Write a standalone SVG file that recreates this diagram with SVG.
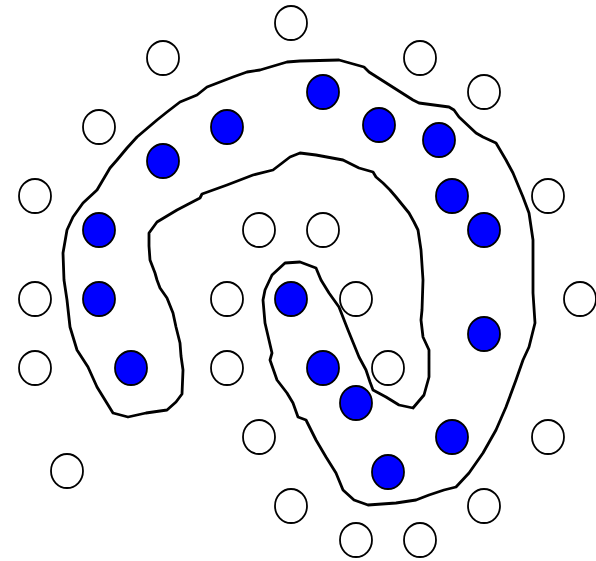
<svg xmlns="http://www.w3.org/2000/svg" width="596" height="561" viewBox="0 0 596 561">
<style>
.o{fill:#fff;stroke:#000;stroke-width:1.8}
.b{fill:#0000ff;stroke:#000;stroke-width:1.8}
.r{fill:none;stroke:#000;stroke-width:2.8;stroke-linejoin:round}
</style>
<rect width="596" height="561" fill="#fff"/>
<g id="region">
<path class="r" d="M113,413 L128,417 L146,413 L167,410 L176,402 L182,394 L183,370 L181,356 L180,343 L176,327 L173,313 L167,298 L160,288 L157,280 L155,273 L150,260 L149,246 L149,233 L157,222 L177,210 L200,198 L202,194 L227,185 L253,175 L273,170 L290,157 L300,153 L316,155 L343,160 L359,168 L373,172 L376,177 L383,183 L390,190 L396,197 L409,213 L414,222 L418,230 L421,250 L423,280 L422,310 L421,320 L423,337 L429,350 L429,377 L424,395 L413,408 L399,405 L386,397 L373,390 L370,382 L366,370 L359,357 L348,330 L339,307 L329,293 L321,280 L316,268 L300,262 L285,263 L272,275 L265,290 L263,300 L265,323 L272,353 L270,360 L277,380 L287,393 L293,403 L298,417 L306,420 L316,440 L326,457 L336,473 L343,490 L354,500 L368,505 L396,503 L416,500 L429,495 L444,490 L456,487 L469,473 L483,453 L496,430 L506,407 L516,380 L523,360 L529,347 L535,323 L533,293 L533,240 L529,213 L523,197 L513,173 L506,160 L496,143 L483,137 L476,133 L459,117 L454,110 L449,107 L419,103 L413,100 L369,72 L364,67 L339,60 L300,61 L287,62 L260,70 L247,72 L233,77 L207,87 L197,95 L180,102 L167,112 L157,120 L137,137 L127,148 L117,160 L110,168 L97,190 L83,203 L73,217 L67,230 L63,253 L64,280 L67,300 L70,327 L77,350 L88,367 L97,387 Z"/>
</g>
<g id="white-points">
<ellipse class="o" cx="291" cy="23" rx="16" ry="17"/>
<ellipse class="o" cx="163" cy="58" rx="16" ry="17"/>
<ellipse class="o" cx="420" cy="58" rx="16" ry="17"/>
<ellipse class="o" cx="484" cy="92" rx="16" ry="17"/>
<ellipse class="o" cx="99" cy="127" rx="16" ry="17"/>
<ellipse class="o" cx="35" cy="196" rx="16" ry="17"/>
<ellipse class="o" cx="548" cy="196" rx="16" ry="17"/>
<ellipse class="o" cx="259" cy="230" rx="16" ry="17"/>
<ellipse class="o" cx="323" cy="230" rx="16" ry="17"/>
<ellipse class="o" cx="35" cy="299" rx="16" ry="17"/>
<ellipse class="o" cx="227" cy="299" rx="16" ry="17"/>
<ellipse class="o" cx="356" cy="299" rx="16" ry="17"/>
<ellipse class="o" cx="580" cy="299" rx="16" ry="17"/>
<ellipse class="o" cx="35" cy="368" rx="16" ry="17"/>
<ellipse class="o" cx="227" cy="368" rx="16" ry="17"/>
<ellipse class="o" cx="388" cy="368" rx="16" ry="17"/>
<ellipse class="o" cx="259" cy="437" rx="16" ry="17"/>
<ellipse class="o" cx="548" cy="437" rx="16" ry="17"/>
<ellipse class="o" cx="67" cy="471" rx="16" ry="17"/>
<ellipse class="o" cx="291" cy="506" rx="16" ry="17"/>
<ellipse class="o" cx="484" cy="506" rx="16" ry="17"/>
<ellipse class="o" cx="356" cy="540" rx="16" ry="17"/>
<ellipse class="o" cx="420" cy="540" rx="16" ry="17"/>
</g>
<g id="blue-points">
<ellipse class="b" cx="323" cy="92" rx="16" ry="17"/>
<ellipse class="b" cx="227" cy="127" rx="16" ry="17"/>
<ellipse class="b" cx="379" cy="125" rx="16" ry="17"/>
<ellipse class="b" cx="163" cy="161" rx="16" ry="17"/>
<ellipse class="b" cx="439" cy="140" rx="16" ry="17"/>
<ellipse class="b" cx="99" cy="230" rx="16" ry="17"/>
<ellipse class="b" cx="452" cy="196" rx="16" ry="17"/>
<ellipse class="b" cx="484" cy="230" rx="16" ry="17"/>
<ellipse class="b" cx="99" cy="299" rx="16" ry="17"/>
<ellipse class="b" cx="291" cy="299" rx="16" ry="17"/>
<ellipse class="b" cx="484" cy="334" rx="16" ry="17"/>
<ellipse class="b" cx="131" cy="368" rx="16" ry="17"/>
<ellipse class="b" cx="323" cy="368" rx="16" ry="17"/>
<ellipse class="b" cx="356" cy="403" rx="16" ry="17"/>
<ellipse class="b" cx="452" cy="437" rx="16" ry="17"/>
<ellipse class="b" cx="388" cy="472" rx="16" ry="17"/>
</g>
</svg>
